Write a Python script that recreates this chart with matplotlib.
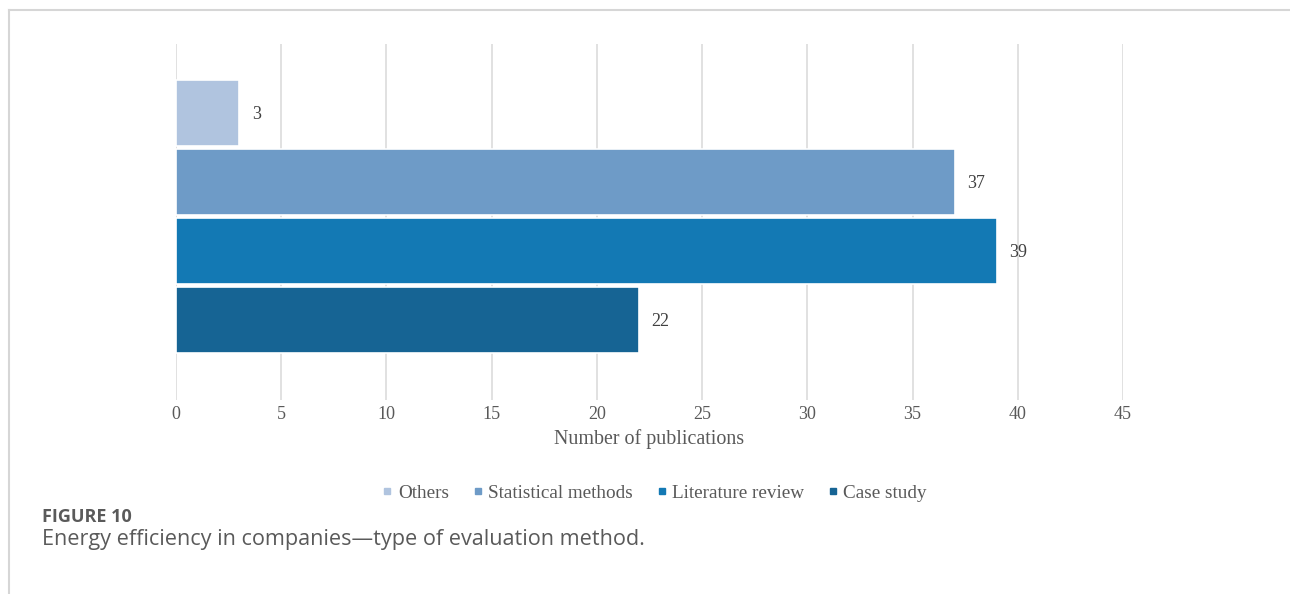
import matplotlib.pyplot as plt
from matplotlib.lines import Line2D

# evaluation method categories, drawn top to bottom
methods = ["Others", "Statistical methods", "Literature review", "Case study"]
publications = [3, 37, 39, 22]
colors = ["#B0C4DF", "#6E9BC7", "#1379B4", "#166494"]
x_ticks = [0, 5, 10, 15, 20, 25, 30, 35, 40, 45]

serif = ["Liberation Serif", "DejaVu Serif"]
sans = ["Open Sans", "DejaVu Sans"]

fig = plt.figure(figsize=(12.9, 5.94), dpi=100)
W, H = 1290, 594

# thin grey frame around the figure panel (top and left)
fig.add_artist(Line2D([9 / W, 1.0], [1 - 10 / H, 1 - 10 / H], color="#d6d6d6", lw=1.5))
fig.add_artist(Line2D([9 / W, 9 / W], [0.0, 1 - 10 / H], color="#d6d6d6", lw=1.5))

ax = fig.add_axes([176 / W, 1 - 400 / H, (1123 - 176) / W, (400 - 44) / H])
ypos = list(range(len(methods)))
ax.barh(ypos, publications, height=0.97, color=colors, edgecolor="white",
        linewidth=1.2, zorder=3)

for y, v in zip(ypos, publications):
    ax.text(v + 0.6, y + 0.02, str(v), va="center", ha="left",
            fontsize=13, family=serif, color="#404040")

ax.set_xlim(0, 45)
ax.set_ylim(4.16, -1.0)
ax.set_xticks(x_ticks)
ax.set_xticklabels([str(t) for t in x_ticks], family=serif, fontsize=13, color="#595959")
ax.tick_params(axis="x", length=0, pad=4)
ax.set_yticks([])
ax.grid(axis="x", color="#dedede", lw=1.3, zorder=0)
for s in ax.spines.values():
    s.set_visible(False)

ax.set_xlabel("Number of publications", family=serif, fontsize=14.4,
              color="#595959", labelpad=5)

handles = [plt.Line2D([], [], marker="s", ls="", markersize=4.5, color=c) for c in colors]
fig.legend(handles, methods, loc="center", bbox_to_anchor=(650 / W, 1 - 493 / H),
           ncol=4, frameon=False, handletextpad=-0.2, handlelength=1.5,
           columnspacing=0.75, prop={"family": serif, "size": 13.8},
           labelcolor="#595959")

fig.text(42 / W, 1 - 517 / H, "FIGURE 10", family=sans, fontsize=13,
         fontweight="bold", color="#5a5a5a", va="center", ha="left")
fig.text(42 / W, 1 - 540 / H, "Energy efficiency in companies\u2014type of evaluation method.",
         family=sans, fontsize=15.6, color="#5a5a5a", va="center", ha="left")

fig.savefig("out.png", dpi=100)
